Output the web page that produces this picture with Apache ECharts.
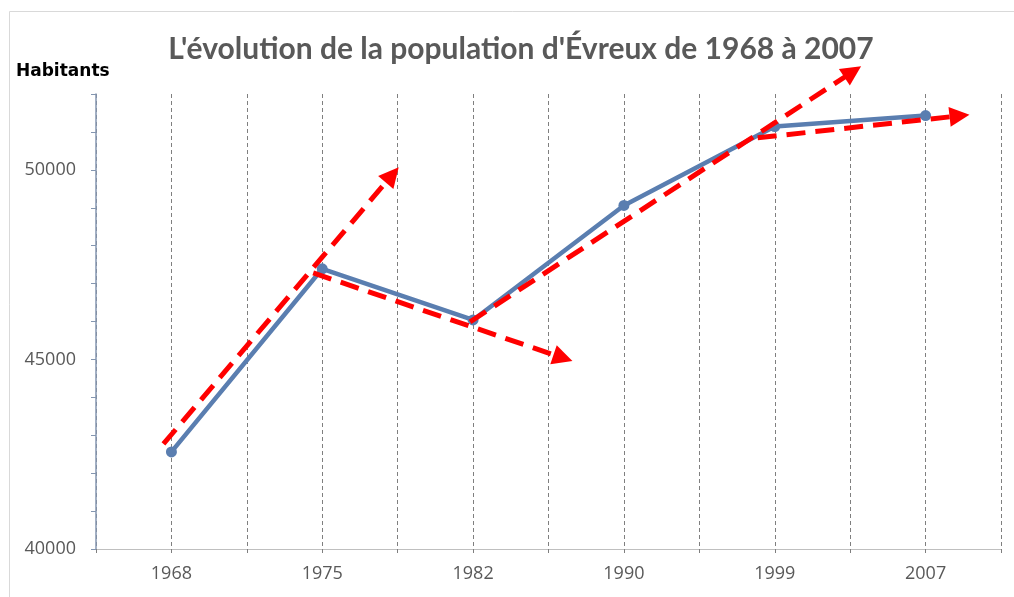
<!DOCTYPE html>
<html><head><meta charset="utf-8">
<script src="https://cdn.jsdelivr.net/npm/echarts@6/dist/echarts.min.js"></script>
<style>html,body{margin:0;padding:0;background:#fff}#c{width:1014px;height:597px}</style>
</head><body><div id="c"></div>
<script>
const years = ['1968','1975','1982','1990','1999','2007'];
const population = [42560, 47390, 46040, 49060, 51140, 51430];
const yTickLabels = [40000, 45000, 50000];
// tangent arrows: [startIndex, startValue, endIndex, endValue]
const arrow1 = [[-0.053, 42770], [1.464, 49868]];
const arrow2 = [[0.940, 47282], [2.596, 45040]];
const arrow3 = [[1.980, 45989], [4.517, 52586]];
const arrow4 = [[3.887, 50844], [5.225, 51425]];

const chart = echarts.init(document.getElementById('c'));
chart.setOption({
  animation: false,
  title: {
    text: "L'évolution de la population d'Évreux de 1968 à 2007",
    left: 516, top: 29, textAlign: 'center',
    textStyle: {fontFamily: 'Lato', fontWeight: 'bold', fontSize: 30, color: '#595959'}
  },
  graphic: [{
    type: 'rect', left: 7, top: 9, silent: true,
    shape: {width: 1030, height: 620},
    style: {fill: 'none', stroke: '#d9d9d9', lineWidth: 1}
  }],
  grid: {left: 96, right: 13, top: 94, bottom: 48, containLabel: false},
  xAxis: [{
    type: 'category', data: years, boundaryGap: true, position: 'bottom',
    axisLine: {lineStyle: {color: '#bfbfbf', width: 1}},
    axisTick: {show: false},
    axisLabel: {color: '#595959', fontSize: 18, fontFamily: 'Open Sans', margin: 16},
    splitLine: {show: false}
  }, {
    type: 'value', min: -0.5, max: 5.5, interval: 0.5, position: 'bottom',
    axisLine: {show: false, onZero: false},
    axisTick: {show: true, length: 6, lineStyle: {color: '#7f7f7f', type: [4, 3]}},
    axisLabel: {show: false},
    splitLine: {show: true, lineStyle: {color: '#7f7f7f', width: 1, type: [4, 3]}}
  }],
  yAxis: {
    type: 'value', min: 40000, max: 52000, interval: 1000,
    name: 'Habitants', nameLocation: 'end', nameGap: 14,
    nameTextStyle: {fontFamily: 'DejaVu Sans', fontWeight: 'bold', fontSize: 17, color: '#000', align: 'left', padding: [0, 0, 0, -80]},
    axisLine: {show: true, onZero: false, lineStyle: {color: '#8496b0', width: 1.5}},
    axisTick: {show: true, length: 5, lineStyle: {color: '#8496b0'}},
    axisLabel: {
      color: '#595959', fontSize: 18, fontFamily: 'Open Sans', margin: 20,
      formatter: v => yTickLabels.includes(v) ? String(v) : ''
    },
    splitLine: {show: false}
  },
  series: [{
    type: 'line', data: population, xAxisIndex: 0,
    symbol: 'circle', symbolSize: 11,
    lineStyle: {color: '#5a7eb0', width: 4.5},
    itemStyle: {color: '#5a7eb0'},
    z: 3
  }, {
    type: 'lines', coordinateSystem: 'cartesian2d', xAxisIndex: 1, yAxisIndex: 0,
    clip: false, z: 5,
    symbol: ['none', 'triangle'], symbolSize: 20,
    lineStyle: {color: '#ff0000', width: 5, type: [19, 10], opacity: 1},
    data: [arrow1, arrow2, arrow3, arrow4].map(a => ({coords: a}))
  }]
});
</script></body></html>
